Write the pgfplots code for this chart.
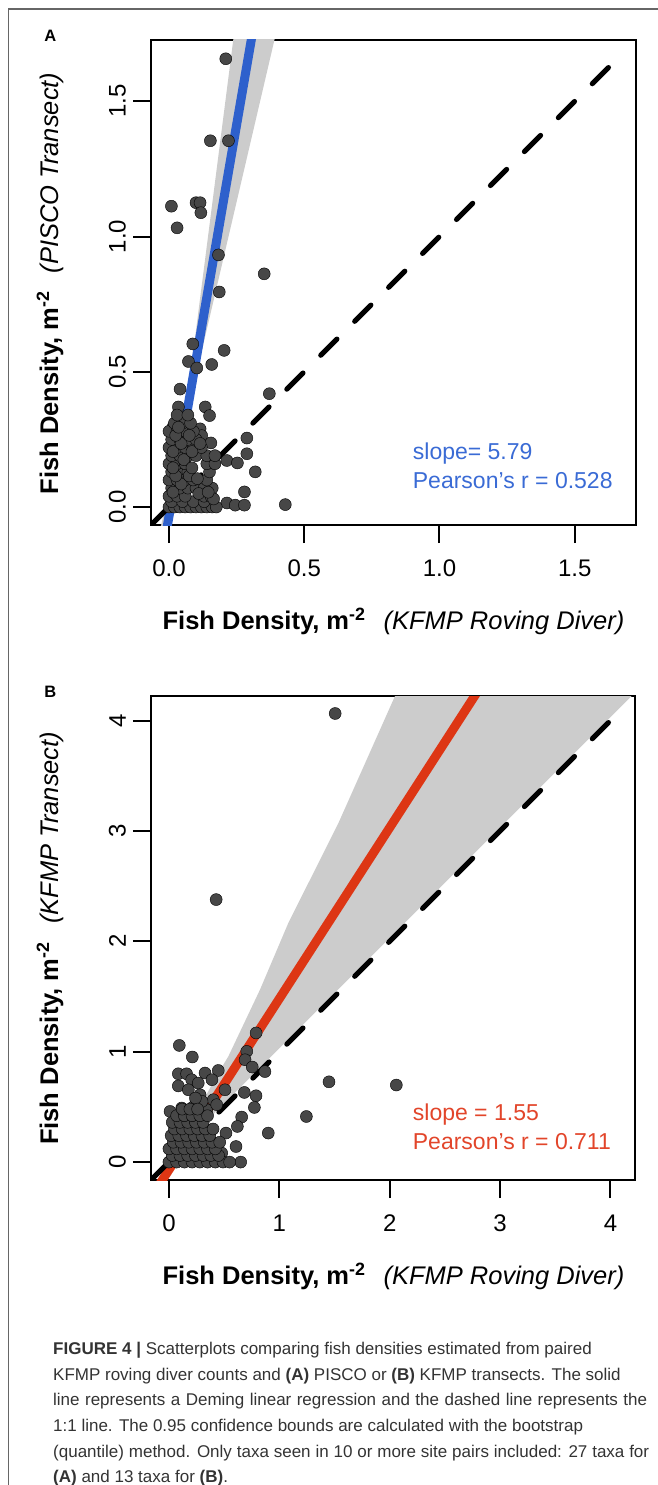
\documentclass[border=0pt]{standalone}
\usepackage{fontspec}
\setmainfont{Liberation Sans}
\usepackage{pgfplots}
\pgfplotsset{compat=1.18}

\definecolor{ptgray}{HTML}{474747}
\definecolor{bandgray}{HTML}{CCCCCC}
\definecolor{lineblue}{HTML}{2E60CC}
\definecolor{txtblue}{HTML}{3A6BD5}
\definecolor{linered}{HTML}{DD3614}
\definecolor{txtred}{HTML}{E2452A}
\definecolor{capgray}{HTML}{333333}

\pgfplotsset{
  rstyle/.style={
    scale only axis, anchor=south west,
    axis line style={line width=2pt},
    tick style={line width=2pt, black},
    major tick length=18pt, tick align=outside, tick pos=left,
    ticklabel style={font=\fontsize{24}{24}\selectfont, inner sep=0pt},
    yticklabel style={rotate=90, anchor=south},
    xticklabel style={anchor=north},
    xticklabel shift=16.5pt, yticklabel shift=7pt,
  },
  pts/.style={only marks, mark=*, mark size=6pt, mark options={draw=none, fill=ptgray}},
}

\begin{document}
\begin{tikzpicture}
\path[use as bounding box] (0,0) rectangle (657pt,-1485pt);
\draw[black!60, line width=1.2pt] (8.4pt,-1500pt) -- (8.4pt,-9pt) -- (670pt,-9pt);

% ---------- panel A ----------
\begin{axis}[rstyle, at={(151pt,-525pt)}, width=485pt, height=485pt,
    xmin=-0.0664, xmax=1.7264, ymin=-0.0664, ymax=1.7264,
    xtick={0,0.5,1,1.5}, xticklabels={0.0,0.5,1.0,1.5},
    ytick={0,0.5,1,1.5}, yticklabels={0.0,0.5,1.0,1.5}]
\addplot[fill=bandgray, draw=none] coordinates {(0.052,0.28) (0.247,1.80) (0.407,1.80)} -- cycle;
\addplot[fill=bandgray, draw=none] coordinates {(0.052,0.28) (0.005,-0.08) (-0.032,-0.08)} -- cycle;
\addplot[pts] coordinates {
 (0.210,1.657) (0.153,1.354) (0.220,1.354) (0.009,1.112) (0.100,1.125) (0.115,1.125)
 (0.118,1.088) (0.030,1.032) (0.183,0.932) (0.352,0.862) (0.186,0.795) (0.088,0.603)
 (0.204,0.579) (0.072,0.538) (0.158,0.527) (0.103,0.514) (0.041,0.436) (0.371,0.419)
 (0.035,0.370) (0.134,0.370) (0.150,0.338) (0.016,0.298) (0.115,0.289) (0.121,0.264)
 (0.288,0.255) (0.155,0.237) (0.288,0.197) (0.214,0.172) (0.253,0.163) (0.319,0.130)
 (0.279,0.056) (0.214,0.015) (0.245,0.007) (0.279,0.007) (0.430,0.009)
 (0,0) (0.02,0) (0.04,0) (0.06,0) (0.08,0) (0.10,0) (0.12,0) (0.14,0) (0.16,0) (0.175,0)
 (0.01,0.02) (0.05,0.02) (0.09,0.02) (0.13,0.02)
 (0,0.04) (0.03,0.04) (0.06,0.04) (0.13,0.04) (0.155,0.04)
 (0.01,0.07) (0.04,0.07) (0.07,0.07) (0.10,0.07) (0.13,0.07) (0.16,0.07)
 (0,0.10) (0.03,0.10) (0.06,0.10) (0.09,0.10) (0.14,0.10)
 (0.01,0.13) (0.04,0.13) (0.07,0.13) (0.15,0.13)
 (0,0.16) (0.03,0.16) (0.06,0.16) (0.14,0.16) (0.17,0.16)
 (0.01,0.19) (0.04,0.19) (0.07,0.19) (0.10,0.19) (0.14,0.19) (0.17,0.19)
 (0,0.22) (0.03,0.22) (0.06,0.22) (0.09,0.22) (0.12,0.22)
 (0.01,0.25) (0.04,0.25) (0.07,0.25) (0.10,0.25)
 (0,0.28) (0.03,0.28) (0.06,0.28) (0.09,0.28)
 (0.02,0.31) (0.05,0.31) (0.08,0.31)
 (0.03,0.34) (0.07,0.34)
 (0.015,0.055) (0.045,0.085) (0.075,0.115) (0.025,0.115) (0.055,0.175) (0.085,0.205)
 (0.015,0.205) (0.045,0.235) (0.075,0.265) (0.025,0.265) (0.11,0.05) (0.115,0.235)
 (0.085,0.145) (0.015,0.145) (0.035,0.295) (0.165,0.03) (0.145,0.055) (0.105,0.105)
};
\addplot[lineblue, line width=9pt] coordinates {(-0.02,-0.1508) (0.32,1.8178)};
\addplot[black, line width=5pt, line cap=round, dash pattern=on 23pt off 25pt] coordinates {(-0.0664,-0.0664) (1.69,1.69)};
\end{axis}

% ---------- panel B ----------
\begin{axis}[rstyle, at={(151pt,-1180pt)}, width=484pt, height=484pt,
    xmin=-0.1624, xmax=4.2224, ymin=-0.1624, ymax=4.2224,
    xtick={0,1,2,3,4}, xticklabels={0,1,2,3,4},
    ytick={0,1,2,3,4}, yticklabels={0,1,2,3,4}]
\addplot[fill=bandgray, draw=none] coordinates {(0.05,0.08) (0.447,0.807) (0.538,0.957) (0.825,1.562) (1.082,2.167) (1.535,3.07) (2.047,4.22) (2.1,4.35) (4.35,4.38)} -- cycle;
\addplot[pts] coordinates {
 (1.506,4.064) (0.428,2.378) (0.094,1.057) (0.212,0.952) (0.79,1.17) (0.705,1.003)
 (0.69,0.927) (0.755,0.861) (0.87,0.82) (1.45,0.727) (2.06,0.698) (1.245,0.413)
 (0.9,0.263) (0.683,0.631) (0.789,0.601) (0.774,0.495) (0.659,0.408) (0.62,0.323)
 (0.517,0.263) (0.608,0.141) (0.65,0.0) (0.478,0.082)
 (0.085,0.80) (0.16,0.80) (0.327,0.807) (0.447,0.83) (0.085,0.69) (0.206,0.746)
 (0.266,0.716) (0.39,0.746) (0.176,0.655) (0.282,0.61) (0.508,0.655) (0.402,0.565)
 (0.01,0.459) (0.116,0.49) (0.22,0.50) (0.342,0.474) (0.433,0.52) (0.30,0.55) (0.24,0.58)
 (0.0,0) (0.07,0) (0.14,0) (0.21,0) (0.28,0) (0.35,0) (0.42,0) (0.49,0) (0.55,0)
 (0.03,0.06) (0.10,0.06) (0.17,0.06) (0.24,0.06) (0.31,0.06) (0.38,0.06) (0.45,0.06)
 (0.0,0.12) (0.07,0.12) (0.14,0.12) (0.21,0.12) (0.28,0.12) (0.35,0.12) (0.42,0.12)
 (0.04,0.18) (0.11,0.18) (0.18,0.18) (0.25,0.18) (0.32,0.18) (0.39,0.18) (0.46,0.18)
 (0.02,0.24) (0.09,0.24) (0.16,0.24) (0.23,0.24) (0.30,0.24) (0.37,0.24)
 (0.05,0.30) (0.12,0.30) (0.19,0.30) (0.26,0.30) (0.33,0.30) (0.40,0.30)
 (0.03,0.36) (0.10,0.36) (0.17,0.36) (0.24,0.36) (0.31,0.36)
 (0.07,0.42) (0.14,0.42) (0.21,0.42) (0.28,0.42) (0.35,0.42)
 (0.12,0.48) (0.19,0.48) (0.26,0.48)
};
\addplot[linered, line width=9pt] coordinates {(-0.1,-0.225) (2.85,4.3475)};
\addplot[black, line width=5pt, line cap=round, dash pattern=on 23pt off 25pt] coordinates {(-0.1624,-0.1624) (4.14,4.14)};
\end{axis}

% ---------- labels ----------
\node[font=\bfseries\fontsize{16.5}{16.5}\selectfont] at (50.3pt,-35.8pt) {A};
\node[font=\bfseries\fontsize{16.5}{16.5}\selectfont] at (50.3pt,-691.7pt) {B};

\node[font=\fontsize{25.5}{25.5}\selectfont] at (393.5pt,-621.7pt)
  {\textbf{Fish Density, m\textsuperscript{-2}}\hspace{18pt}\textit{(KFMP Roving Diver)}};
\node[font=\fontsize{25.5}{25.5}\selectfont, rotate=90] at (50pt,-283.5pt)
  {\textbf{Fish Density, m\textsuperscript{-2}}\hspace{18pt}\textit{(PISCO Transect)}};
\node[font=\fontsize{25.5}{25.5}\selectfont] at (393.5pt,-1276.7pt)
  {\textbf{Fish Density, m\textsuperscript{-2}}\hspace{18pt}\textit{(KFMP Roving Diver)}};
\node[font=\fontsize{25.5}{25.5}\selectfont, rotate=90] at (50pt,-938.3pt)
  {\textbf{Fish Density, m\textsuperscript{-2}}\hspace{18pt}\textit{(KFMP Transect)}};

\node[anchor=west, inner sep=0pt, text=txtblue, font=\fontsize{23}{23}\selectfont] at (412.7pt,-454pt) {slope= 5.79};
\node[anchor=west, inner sep=0pt, text=txtblue, font=\fontsize{23}{23}\selectfont] at (412.7pt,-481pt) {Pearson's r = 0.528};
\node[anchor=west, inner sep=0pt, text=txtred, font=\fontsize{23}{23}\selectfont] at (412.7pt,-1114.3pt) {slope = 1.55};
\node[anchor=west, inner sep=0pt, text=txtred, font=\fontsize{23}{23}\selectfont] at (412.7pt,-1141.7pt) {Pearson's r = 0.711};

% ---------- caption ----------
\begin{scope}[every node/.style={anchor=base west, inner sep=0pt, text=capgray, font=\fontsize{17}{17}\selectfont}]
\node at (53pt,-1354.3pt) {\textbf{FIGURE 4 |} Scatterplots comparing fish densities estimated from paired};
\node at (53pt,-1380pt) {KFMP roving diver counts and \textbf{(A)} PISCO or \textbf{(B)} KFMP transects. The solid};
\node at (53pt,-1405.7pt) {\makebox[594pt][s]{line represents a Deming linear regression and the dashed line represents the}};
\node at (53pt,-1431.4pt) {1:1 line. The 0.95 confidence bounds are calculated with the bootstrap};
\node at (53pt,-1457.1pt) {\makebox[596pt][s]{(quantile) method. Only taxa seen in 10 or more site pairs included: 27 taxa for}};
\node at (53pt,-1482.8pt) {\textbf{(A)} and 13 taxa for \textbf{(B)}.};
\end{scope}
\end{tikzpicture}
\end{document}
